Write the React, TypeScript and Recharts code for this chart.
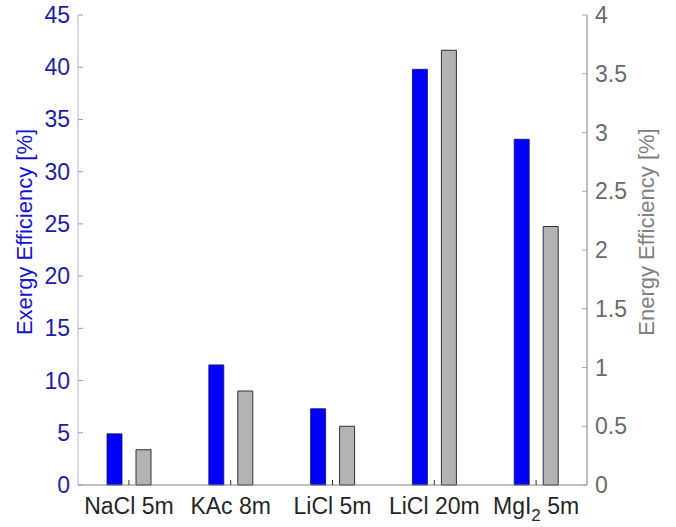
import { BarChart, Bar, XAxis, YAxis } from 'recharts'

const categories = ['NaCl 5m', 'KAc 8m', 'LiCl 5m', 'LiCl 20m', 'MgI2 5m']
const exergy = [4.9, 11.5, 7.3, 39.8, 33.1]
const energy = [0.3, 0.8, 0.5, 3.7, 2.2]
const leftTicks = [0, 5, 10, 15, 20, 25, 30, 35, 40, 45]
const rightTicks = [0, 0.5, 1, 1.5, 2, 2.5, 3, 3.5, 4]

const data = categories.map((name, i) => ({ name, exergy: exergy[i], energy: energy[i] }))

const FONT = '"Liberation Sans", Arial, sans-serif'

function CatTick({ x, y, payload }: any) {
  const v: string = payload.value
  const line = <line x1={x} y1={y} x2={x} y2={y - 5} stroke="#333" strokeWidth={1} />
  if (v.startsWith('MgI2')) {
    return (
      <g>
        {line}
        <text x={x} y={y + 29} textAnchor="middle" fill="#262626" fontSize={23} fontFamily={FONT}>
          <tspan>MgI</tspan>
          <tspan dy={7} fontSize={17}>2</tspan>
          <tspan dy={-7}> 5m</tspan>
        </text>
      </g>
    )
  }
  return (
    <g>
      {line}
      <text x={x} y={y + 29} textAnchor="middle" fill="#262626" fontSize={23} fontFamily={FONT}>
        {v}
      </text>
    </g>
  )
}

function TopTick({ x, y }: any) {
  return <line x1={x} y1={y} x2={x} y2={y + 5} stroke="#333" strokeWidth={1} />
}

function LeftTick({ x, y, payload }: any) {
  return (
    <g>
      <line x1={x + 8} y1={y} x2={x + 13} y2={y} stroke="#9a9ad0" strokeWidth={1} />
      <text x={x} y={y} dy={8} textAnchor="end" fill="#1c1ca8" fontSize={23} fontFamily={FONT}>
        {payload.value}
      </text>
    </g>
  )
}

function RightTick({ x, y, payload }: any) {
  return (
    <g>
      <line x1={x - 8} y1={y} x2={x - 13} y2={y} stroke="#aaa" strokeWidth={1} />
      <text x={x} y={y} dy={8} textAnchor="start" fill="#6a6a6a" fontSize={23} fontFamily={FONT}>
        {payload.value}
      </text>
    </g>
  )
}

export default function App() {
  return (
    <div style={{ position: 'absolute', left: 0, top: 0, background: '#fff' }}>
      <BarChart
        width={676}
        height={527}
        data={data}
        margin={{ top: 15, right: 0, left: 0, bottom: 0 }}
        barSize={15}
        barGap={14}
      >
        <XAxis
          dataKey="name"
          xAxisId="bottom"
          height={42}
          tickSize={0}
          tickMargin={0}
          tick={<CatTick />}
          axisLine={{ stroke: '#808080' }}
          tickLine={false}
        />
        <XAxis
          dataKey="name"
          xAxisId="top"
          orientation="top"
          height={0}
          tickSize={0}
          tickMargin={0}
          tick={<TopTick />}
          axisLine={{ stroke: '#262626' }}
          tickLine={false}
        />
        <YAxis
          yAxisId="left"
          width={78}
          domain={[0, 45]}
          ticks={leftTicks}
          tickSize={0}
          tickMargin={8}
          tick={<LeftTick />}
          tickLine={false}
          axisLine={{ stroke: '#b4b4e0' }}
          label={({ viewBox }: any) => (
            <text
              x={viewBox.x + 32}
              y={232}
              transform={`rotate(-90 ${viewBox.x + 32} 232)`}
              textAnchor="middle"
              fill="#1414d0"
              fontSize={22}
              fontFamily={FONT}
            >
              Exergy Efficiency [%]
            </text>
          )}
        />
        <YAxis
          yAxisId="right"
          orientation="right"
          width={89}
          domain={[0, 4]}
          ticks={rightTicks}
          tickSize={0}
          tickMargin={8}
          tick={<RightTick />}
          tickLine={false}
          axisLine={{ stroke: '#808080' }}
          label={({ viewBox }: any) => (
            <text
              x={viewBox.x + 67}
              y={232}
              transform={`rotate(-90 ${viewBox.x + 67} 232)`}
              textAnchor="middle"
              fill="#808080"
              fontSize={22}
              fontFamily={FONT}
            >
              Energy Efficiency [%]
            </text>
          )}
        />
        <Bar
          dataKey="exergy"
          xAxisId="bottom"
          yAxisId="left"
          fill="#0000ff"
          stroke="#10106a"
          strokeWidth={0.8}
          isAnimationActive={false}
        />
        <Bar
          dataKey="energy"
          xAxisId="bottom"
          yAxisId="right"
          fill="#b3b3b3"
          stroke="#333"
          strokeWidth={1}
          isAnimationActive={false}
        />
      </BarChart>
    </div>
  )
}
